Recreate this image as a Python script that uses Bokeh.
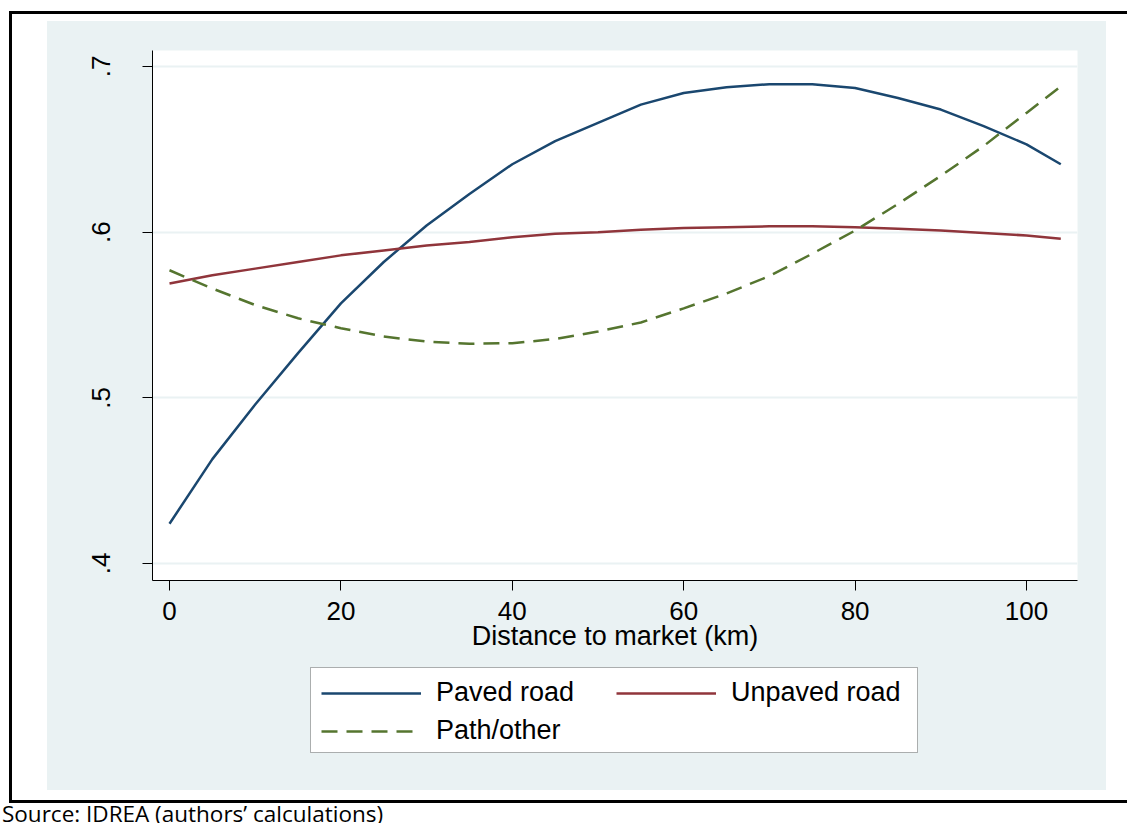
from bokeh.plotting import figure
from bokeh.layouts import column
from bokeh.models import (Range1d, FixedTicker, Legend, LegendItem, Div, BoxAnnotation)
from bokeh.embed import file_html
from bokeh.resources import INLINE

# ---- data ----
distance_km = [0, 5, 10, 15, 20, 25, 30, 35, 40, 45, 50, 55, 60, 65, 70, 75, 80, 85, 90, 95, 100, 104]
paved = [0.424, 0.463, 0.496, 0.527, 0.557, 0.582, 0.604, 0.623, 0.641, 0.655, 0.666, 0.677, 0.684,
         0.6875, 0.6893, 0.6893, 0.687, 0.681, 0.674, 0.664, 0.653, 0.641]
unpaved = [0.569, 0.574, 0.578, 0.582, 0.586, 0.589, 0.592, 0.594, 0.597, 0.599, 0.600, 0.6015, 0.6025,
           0.603, 0.6035, 0.6035, 0.603, 0.602, 0.601, 0.5995, 0.598, 0.596]
path_other = [0.577, 0.566, 0.556, 0.548, 0.542, 0.537, 0.534, 0.5326, 0.533, 0.5355, 0.540, 0.5455,
              0.554, 0.563, 0.5735, 0.587, 0.601, 0.617, 0.634, 0.652, 0.672, 0.688]
series_values = [paved, unpaved, path_other]
series_names = ["Paved road", "Unpaved road", "Path/other"]
series_colors = ["#1a476f", "#90353b", "#55752f"]
series_dash = ["solid", "solid", "16 9"]
xticks = [0, 20, 40, 60, 80, 100]
yticks = [0.4, 0.5, 0.6, 0.7]
ytick_labels = [".4", ".5", ".6", ".7"]
x_title = "Distance to market (km)"
source_note = "Source: IDREA (authors\u2019 calculations)"

FONT = "Liberation Sans"
BG = "#eaf2f3"

# ---- main plot ----
p = figure(width=1059, height=641, output_backend="svg", toolbar_location=None,
           x_range=Range1d(-1.984, 105.95), y_range=Range1d(0.38974, 0.70966),
           min_border_left=105, min_border_right=29, min_border_top=29, min_border_bottom=82)
p.border_fill_color = BG
p.background_fill_color = "white"
p.outline_line_color = None

p.xaxis.ticker = FixedTicker(ticks=xticks)
p.yaxis.ticker = FixedTicker(ticks=yticks)
p.yaxis.major_label_overrides = dict(zip(yticks, ytick_labels))
p.yaxis.major_label_orientation = "vertical"
p.xaxis.axis_label = x_title
for ax in (p.xaxis, p.yaxis):
    ax.axis_line_color = "black"
    ax.axis_line_width = 1
    ax.major_tick_line_color = "black"
    ax.major_tick_line_width = 1
    ax.major_tick_in = 0
    ax.major_tick_out = 10
    ax.minor_tick_line_color = None
    ax.major_label_text_font = FONT
    ax.major_label_text_font_size = "26px"
    ax.major_label_text_color = "black"
    ax.axis_label_text_font = FONT
    ax.axis_label_text_font_size = "27px"
    ax.axis_label_text_font_style = "normal"
    ax.axis_label_text_color = "black"
p.xaxis.major_label_standoff = 11
p.yaxis.major_label_standoff = 32
p.xaxis.axis_label_standoff = -2
p.xgrid.visible = False
p.ygrid.grid_line_color = BG
p.ygrid.grid_line_width = 2

for yv, col, dash in zip(series_values, series_colors, series_dash):
    p.line(distance_km, yv, line_color=col, line_width=2.5, line_dash=dash)

# ---- legend strip (continues the bluish-gray graph region); its ranges are page pixels ----
pl = figure(width=1059, height=128, output_backend="svg", toolbar_location=None,
            x_range=Range1d(152, 1077), y_range=Range1d(790, 662),
            x_axis_type=None, y_axis_type=None,
            min_border_left=105, min_border_right=29, min_border_top=0, min_border_bottom=0)
pl.border_fill_color = BG
pl.background_fill_color = BG
pl.outline_line_color = None
pl.xgrid.visible = False
pl.ygrid.visible = False
# the same series drawn again only to provide legend keys (they fall outside this strip's ranges)
key_renderers = [pl.line(distance_km, yv, line_color=col, line_width=2.5, line_dash=dash)
                 for yv, col, dash in zip(series_values, series_colors, series_dash)]

legend_box = BoxAnnotation(left=310, right=917, top=667, bottom=752,
                           fill_color="white", fill_alpha=1, line_color="black", line_width=1)
pl.add_layout(legend_box)

legend = Legend(items=[LegendItem(label=n, renderers=[r]) for n, r in zip(series_names, key_renderers)],
                location=(169, 44), orientation="horizontal", ncols=2,
                glyph_width=100, glyph_height=20, label_standoff=15, label_width=173,
                padding=0, spacing=7, margin=0,
                label_text_font=FONT, label_text_font_size="27px", label_text_color="black",
                border_line_color=None, background_fill_alpha=0)
pl.add_layout(legend)

inner = column(p, pl, spacing=0, styles={"background-color": BG})
graph = column(inner, margin=(11, 0, 0, 9),
               styles={"border-left": "3px solid black", "border-top": "3px solid black",
                       "border-bottom": "3px solid black", "background-color": "white",
                       "padding": "7px 21px 10px 35px"})

note = Div(text=source_note, width=600, height=20, margin=(0, 0, 0, 2),
           styles={"font-family": "Open Sans", "font-size": "22.5px", "line-height": "22.5px",
                   "color": "black", "white-space": "nowrap", "overflow": "hidden"})

page = column(graph, note, spacing=0)

open("out.html", "w").write(file_html(page, INLINE))
